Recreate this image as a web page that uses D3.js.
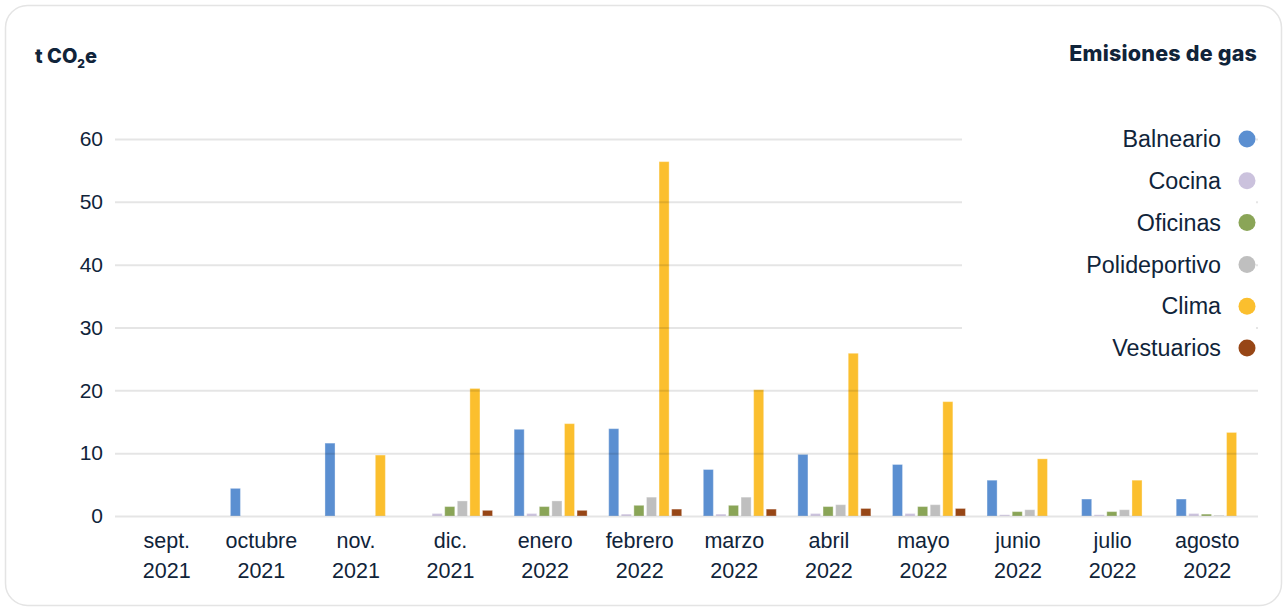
<!DOCTYPE html>
<html lang="es">
<head>
<meta charset="utf-8">
<script src="https://cdn.jsdelivr.net/npm/d3@7"></script>
<style>
  html, body { margin: 0; padding: 0; background: #fff; }
  svg { display: block; }
  text { fill: #10243a; }
</style>
</head>
<body>
<svg id="chart" width="1287" height="611"></svg>
<script>
// Monthly gas emissions (t CO2e) per building area, Sept 2021 – Aug 2022
const monthLabels = ["sept.", "octubre", "nov.", "dic.", "enero", "febrero", "marzo", "abril", "mayo", "junio", "julio", "agosto"];
const yearLabels  = ["2021", "2021", "2021", "2021", "2022", "2022", "2022", "2022", "2022", "2022", "2022", "2022"];
const seriesNames = ["Balneario", "Cocina", "Oficinas", "Polideportivo", "Clima", "Vestuarios"];
const seriesColors = ["#5b8fd1", "#cbc2dd", "#8aa557", "#bfbfbf", "#fbbf2e", "#974616"];

const balneario     = [0, 4.4, 11.6, 0, 13.8, 13.9, 7.4, 9.8, 8.2, 5.7, 2.7, 2.7];
const cocina        = [0, 0, 0, 0.4, 0.4, 0.3, 0.3, 0.4, 0.4, 0.2, 0.2, 0.4];
const oficinas      = [0, 0, 0, 1.5, 1.5, 1.7, 1.7, 1.5, 1.5, 0.7, 0.7, 0.3];
const polideportivo = [0, 0, 0, 2.4, 2.4, 3.0, 3.0, 1.8, 1.8, 1.0, 1.0, 0.1];
const clima         = [0, 0, 9.7, 20.3, 14.7, 56.4, 20.1, 25.9, 18.2, 9.1, 5.7, 13.3];
const vestuarios    = [0, 0, 0, 0.9, 0.9, 1.1, 1.1, 1.2, 1.2, 0, 0, 0];
const yTicks = [0, 10, 20, 30, 40, 50, 60];

const seriesValues = [balneario, cocina, oficinas, polideportivo, clima, vestuarios];
const months = monthLabels.map((m, i) => m + " " + yearLabels[i]);

const svg = d3.select("#chart");
const FONT = "'Liberation Sans', Arial, sans-serif";
const TITLE_FONT = "Inter, 'Liberation Sans', sans-serif";

// card outline
svg.append("rect")
  .attr("x", 5.5).attr("y", 5.5)
  .attr("width", 1276).attr("height", 600)
  .attr("rx", 22).attr("ry", 22)
  .attr("fill", "#fff")
  .attr("stroke", "#e4e4e4")
  .attr("stroke-width", 1.5);

const plotLeft = 115, plotRight = 1258;

const y = d3.scaleLinear().domain([0, 60]).range([516, 139]);

const x0 = d3.scaleBand()
  .domain(months)
  .range([119.5, 1254.5])
  .paddingInner(0.07)
  .paddingOuter(0.035);

const x1 = d3.scaleBand()
  .domain(seriesNames)
  .range([x0.bandwidth() / 2 - 31, x0.bandwidth() / 2 + 42])
  .paddingInner(0.2)
  .paddingOuter(0);

const color = d3.scaleOrdinal().domain(seriesNames).range(seriesColors);

// bars
const groups = svg.append("g").selectAll("g")
  .data(months)
  .join("g")
  .attr("transform", d => `translate(${x0(d)},0)`);

groups.selectAll("rect")
  .data((m, i) => seriesNames.map((s, j) => ({ series: s, value: seriesValues[j][i] })))
  .join("rect")
  .filter(d => d.value > 0)
  .attr("x", d => x1(d.series))
  .attr("width", x1.bandwidth())
  .attr("y", d => y(d.value))
  .attr("height", d => y(0) - y(d.value))
  .attr("fill", d => color(d.series))
  .attr("stroke", "#fff")
  .attr("stroke-opacity", 0.35)
  .attr("stroke-width", 1);

// gridlines over the bars
const yAxis = d3.axisLeft(y)
  .tickValues(yTicks)
  .tickSize(-(plotRight - plotLeft))
  .tickPadding(12)
  .tickFormat(d3.format("d"));

const gy = svg.append("g")
  .attr("transform", `translate(${plotLeft},0)`)
  .call(yAxis);
gy.select(".domain").remove();
gy.selectAll(".tick line")
  .attr("stroke", "#000")
  .attr("stroke-opacity", 0.1)
  .attr("stroke-width", 2);
gy.selectAll(".tick text")
  .attr("font-family", FONT)
  .attr("font-size", 21)
  .attr("fill", "#10243a");

// x axis labels (month + year)
const xAxis = d3.axisBottom(x0).tickSize(0).tickFormat(() => "");
const gx = svg.append("g").attr("transform", "translate(0,516)").call(xAxis);
gx.select(".domain").remove();
gx.selectAll(".tick").each(function (d, i) {
  const t = d3.select(this).append("text")
    .attr("text-anchor", "middle")
    .attr("font-family", FONT)
    .attr("font-size", 21.5)
    .attr("fill", "#10243a");
  t.append("tspan").attr("x", 0).attr("y", 32).text(monthLabels[i]);
  t.append("tspan").attr("x", 0).attr("y", 62).text(yearLabels[i]);
});

// legend panel (sits on top of the gridlines)
const legend = svg.append("g");
legend.append("rect")
  .attr("x", 962).attr("y", 112)
  .attr("width", 294).attr("height", 222)
  .attr("fill", "#fff");

const legendY = d3.scalePoint().domain(seriesNames).range([139, 348]);
const items = legend.selectAll("g.item")
  .data(seriesNames)
  .join("g")
  .attr("class", "item")
  .attr("transform", d => `translate(0,${legendY(d)})`);
items.append("text")
  .attr("x", 1221)
  .attr("dy", "0.35em")
  .attr("text-anchor", "end")
  .attr("font-family", FONT)
  .attr("font-size", 23.3)
  .attr("fill", "#10243a")
  .text(d => d);
items.append("circle")
  .attr("cx", 1247)
  .attr("r", 8.5)
  .attr("fill", d => color(d));

// titles
svg.append("text")
  .attr("x", 1257).attr("y", 61)
  .attr("text-anchor", "end")
  .attr("font-family", TITLE_FONT)
  .attr("font-weight", 800)
  .attr("font-size", 21.5)
  .attr("letter-spacing", 0.2)
  .attr("fill", "#10243a")
  .text("Emisiones de gas");

const unit = svg.append("text")
  .attr("x", 35).attr("y", 63)
  .attr("font-family", TITLE_FONT)
  .attr("font-weight", 800)
  .attr("font-size", 20)
  .attr("fill", "#10243a");
unit.append("tspan").text("t CO");
unit.append("tspan").attr("font-size", 12).attr("dy", 5).text("2");
unit.append("tspan").attr("dy", -5).text("e");
</script>
</body>
</html>
